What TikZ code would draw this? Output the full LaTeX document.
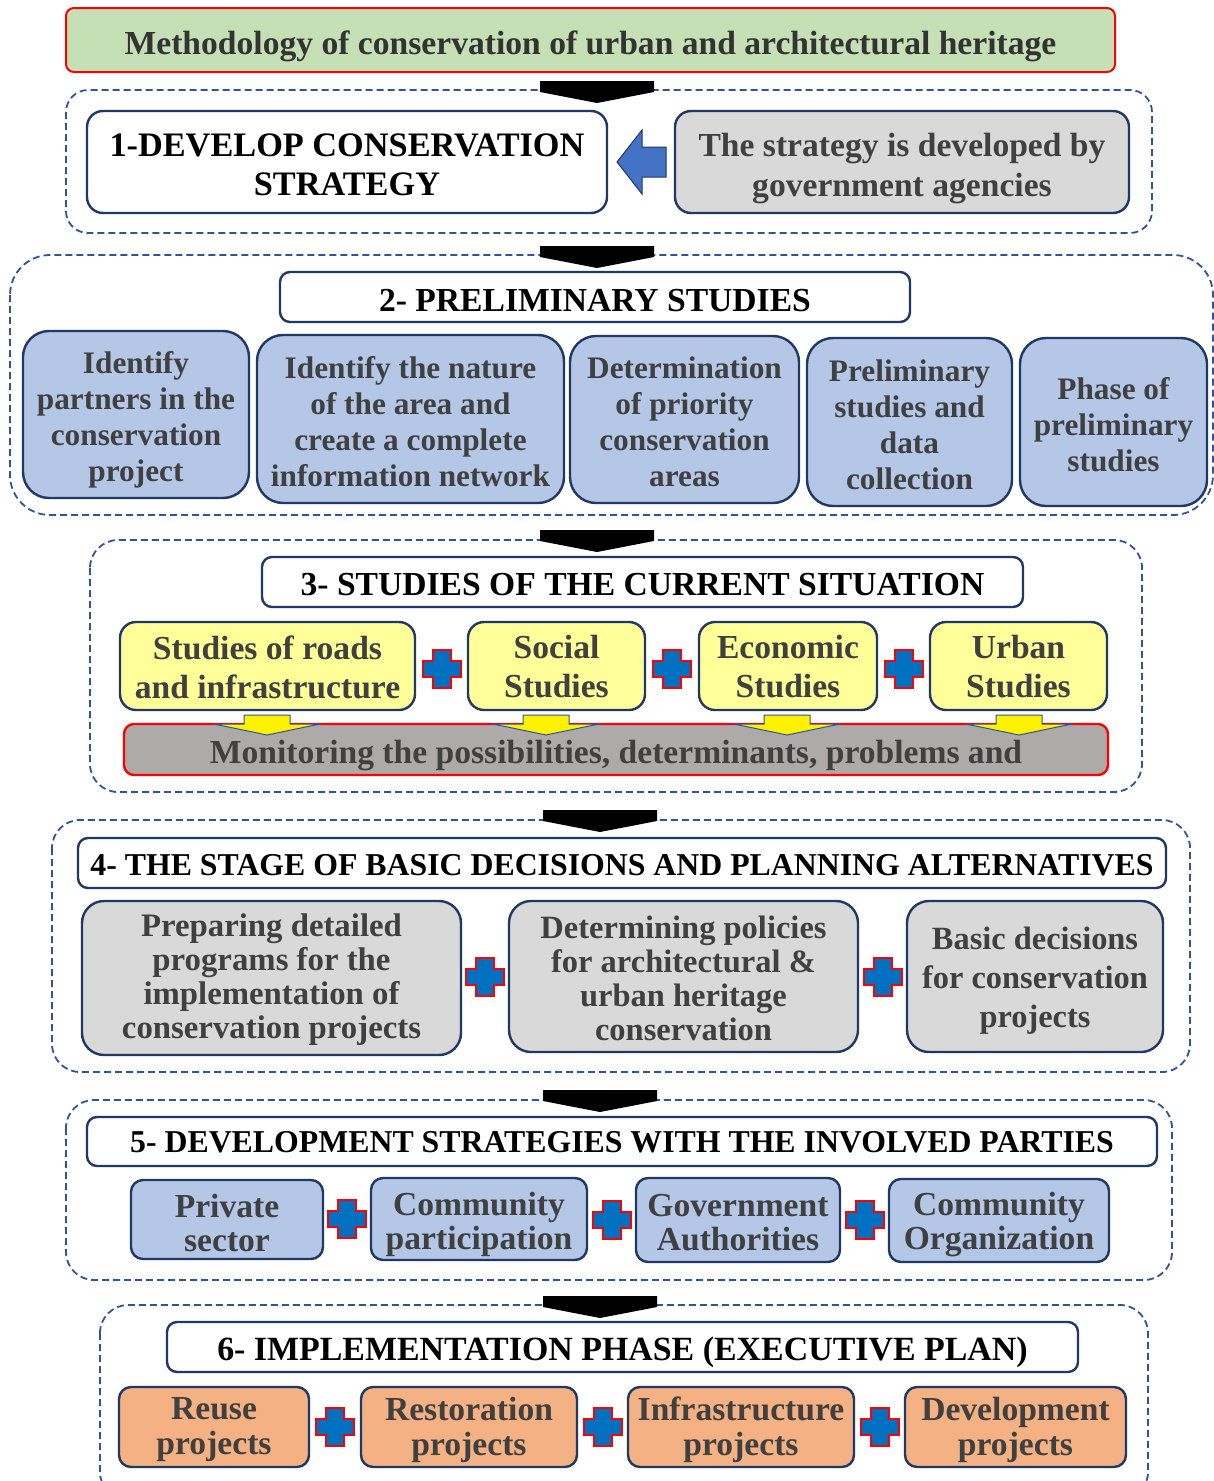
\documentclass[tikz,border=0pt]{standalone}
\usepackage{fontspec}
\setmainfont{Liberation Serif}
\usetikzlibrary{calc}
\definecolor{dashblue}{HTML}{2F5597}
\definecolor{navy}{HTML}{1F3864}
\definecolor{txtgray}{HTML}{404040}
\definecolor{titlegreen}{HTML}{C5E0B4}
\definecolor{lgray}{HTML}{D9D9D9}
\definecolor{mgray}{HTML}{AEAAAA}
\definecolor{lblue}{HTML}{B4C7E7}
\definecolor{lyellow}{HTML}{FFFF99}
\definecolor{lorange}{HTML}{F4B183}
\definecolor{plusblue}{HTML}{0070C0}
\definecolor{arrblue}{HTML}{4472C4}
\tikzset{
  x=1pt, y=-1pt,
  fnt/.style 2 args={font=\fontsize{#1}{#2}\selectfont\bfseries},
  frame/.style={draw=dashblue, line width=1.8pt, dash pattern=on 7pt off 4pt, rounded corners=28pt},
  base/.style={draw=navy, line width=2.4pt, rounded corners=16pt, inner sep=0pt, align=center, text=txtgray},
  header/.style={base, fill=white, text=black, rounded corners=10pt},
  graybox/.style={base, fill=lgray},
  bluebox/.style={base, fill=lblue},
  yellowbox/.style={base, fill=lyellow},
  orangebox/.style={base, fill=lorange},
  plus/.pic={\draw[red, line width=2pt, fill=plusblue] (-19,-8)--(-9,-8)--(-9,-19)--(9,-19)--(9,-8)--(19,-8)--(19,8)--(9,8)--(9,19)--(-9,19)--(-9,8)--(-19,8)--cycle;},
  chevron/.pic={\fill[black] (-57,0)--(57,0)--(57,11)--(0,22)--(-57,11)--cycle;},
  ydown/.pic={\draw[dashblue, line width=1pt, fill=yellow] (-23,0)--(23,0)--(23,9)--(53,9)--(0,20)--(-53,9)--(-23,9)--cycle;}
}
\def\tsh{3}
\newcommand{\bx}[8][]{%
  \node[#2, minimum width={(#5-#3)*1pt}, minimum height={(#6-#4)*1pt}, #1] (#7) at ({(#3+#5)/2},{(#4+#6)/2}) {};
  \node[#2, #1, draw=none, fill=none, minimum width=0pt, minimum height=0pt] (#7-t) at ([yshift=-\tsh pt]#7.center) {#8};}
\begin{document}
\begin{tikzpicture}
\clip (0,0) rectangle (1214,1481);
\fill[white] (0,0) rectangle (1214,1481);
% title
\def\tsh{6}
\bx[draw=red, line width=2pt, rounded corners=8pt, text=black!80, fnt={33.6}{36}]{base, fill=titlegreen}{66}{8}{1115}{72}{title}{Methodology of conservation of urban and architectural heritage}
% section 1
\draw[frame, rounded corners=22pt] (66,90) rectangle (1152,233);
\pic at (597,81) {chevron};
\def\tsh{3}
\bx[fnt={34.3}{39}]{header, rounded corners=16pt}{87}{111}{607}{213}{s1}{1-DEVELOP CONSERVATION\\STRATEGY}
\def\tsh{7}
\bx[fnt={33.6}{40}]{graybox}{675}{111}{1129}{213}{gov}{The strategy is developed by\\government agencies}
\draw[navy, line width=1pt, fill=arrblue] (617,162)--(642,130)--(642,147)--(666,147)--(666,177)--(642,177)--(642,194)--cycle;
% section 2
\draw[frame, rounded corners=40pt] (10,255) rectangle (1213,515);
\pic at (597,246) {chevron};
\def\tsh{4}
\bx[fnt={33.6}{36}]{header}{280}{272}{910}{322}{s2}{2- PRELIMINARY STUDIES}
\tikzset{pbox/.style={bluebox, rounded corners=26pt, fnt={31.3}{36}}}
\def\tsh{5}
\bx{pbox}{23}{331}{249}{498}{p1}{Identify\\partners in the\\conservation\\project}
\def\tsh{3}
\bx{pbox}{257}{335}{564}{503}{p2}{Identify the nature\\of the area and\\create a complete\\information network}
\def\tsh{2}
\bx{pbox}{570}{336}{799}{503}{p3}{Determination\\of priority\\conservation\\areas}
\def\tsh{3}
\bx{pbox}{807}{338}{1012}{506}{p4}{Preliminary\\studies and\\data\\collection}
\bx{pbox}{1020}{338}{1207}{506}{p5}{Phase of\\preliminary\\studies}
% section 3
\draw[frame] (90,540) rectangle (1142,792);
\pic at (597,530) {chevron};
\bx[fnt={33.6}{36}]{header}{262}{557}{1023}{607}{s3}{3- STUDIES OF THE CURRENT SITUATION}
\tikzset{ybox/.style={yellowbox, fnt={33.6}{39}}}
\def\tsh{1}
\bx{ybox}{120}{622}{415}{710}{y1}{Studies of roads\\and infrastructure}
\bx{ybox}{468}{622}{645}{710}{y2}{Social\\Studies}
\bx{ybox}{699}{622}{877}{710}{y3}{Economic\\Studies}
\bx{ybox}{930}{622}{1107}{710}{y4}{Urban\\Studies}
\pic at ([yshift=-3pt]$(y1.east)!0.5!(y2.west)$) {plus};
\pic at ([yshift=-3pt]$(y2.east)!0.5!(y3.west)$) {plus};
\pic at ([yshift=-3pt]$(y3.east)!0.5!(y4.west)$) {plus};
\def\tsh{6}
\bx[draw=red, rounded corners=10pt, fill=mgray, fnt={33.6}{36}]{base}{124}{724}{1108}{775}{mon}{Monitoring the possibilities, determinants, problems and}
\foreach \xx in {267,546,787,1019}{\pic at (\xx,715) {ydown};}
% section 4
\draw[frame] (52,820) rectangle (1190,1072);
\pic at (600,810) {chevron};
\def\tsh{2}
\bx[fnt={31.8}{36}]{header}{78}{838}{1166}{888}{s4}{4- THE STAGE OF BASIC DECISIONS AND PLANNING ALTERNATIVES}
\bx[rounded corners=22pt, fnt={32.8}{34}]{graybox}{82}{901}{461}{1055}{d1}{Preparing detailed\\programs for the\\implementation of\\conservation projects}
\bx[rounded corners=22pt, fnt={32.5}{34}]{graybox}{509}{901}{858}{1052}{d2}{Determining policies\\for architectural \&\\urban heritage\\conservation}
\def\tsh{4}
\bx[rounded corners=22pt, fnt={32.4}{39}]{graybox}{907}{901}{1163}{1052}{d3}{Basic decisions\\for conservation\\projects}
\pic at ($(d1.east)!0.5!(d2.west)$) {plus};
\pic at ($(d2.east)!0.5!(d3.west)$) {plus};
% section 5
\draw[frame] (66,1100) rectangle (1172,1280);
\pic at (600,1090) {chevron};
\def\tsh{1}
\bx[fnt={31.8}{36}]{header}{87}{1117}{1157}{1166}{s5}{5- DEVELOPMENT STRATEGIES WITH THE INVOLVED PARTIES}
\tikzset{ebox/.style={bluebox, rounded corners=12pt, fnt={33.6}{34}}}
\def\tsh{3}
\bx{ebox}{131}{1180}{323}{1259}{e1}{Private\\sector}
\def\tsh{5}
\bx{ebox}{371}{1178}{587}{1260}{e2}{Community\\participation}
\def\tsh{3}
\bx{ebox}{636}{1178}{840}{1262}{e3}{Government\\Authorities}
\def\tsh{4}
\bx{ebox}{889}{1179}{1109}{1262}{e4}{Community\\Organization}
\pic at ($(e1.east)!0.5!(e2.west)$) {plus};
\pic at ($(e2.east)!0.5!(e3.west)$) {plus};
\pic at ($(e3.east)!0.5!(e4.west)$) {plus};
% section 6
\draw[frame] (100,1305) rectangle (1148,1500);
\pic at (600,1296) {chevron};
\def\tsh{5}
\bx[fnt={33.9}{36}]{header}{167}{1322}{1078}{1372}{s6}{6- IMPLEMENTATION PHASE (EXECUTIVE PLAN)}
\tikzset{fbox/.style={orangebox, rounded corners=12pt, fnt={33.6}{35}}}
\def\tsh{3}
\bx{fbox}{119}{1387}{309}{1467}{f1}{Reuse\\projects}
\bx{fbox}{361}{1387}{577}{1467}{f2}{Restoration\\projects}
\bx{fbox}{628}{1387}{854}{1467}{f3}{Infrastructure\\projects}
\bx{fbox}{905}{1387}{1126}{1467}{f4}{Development\\projects}
\pic at ($(f1.east)!0.5!(f2.west)$) {plus};
\pic at ($(f2.east)!0.5!(f3.west)$) {plus};
\pic at ($(f3.east)!0.5!(f4.west)$) {plus};
\end{tikzpicture}
\end{document}
